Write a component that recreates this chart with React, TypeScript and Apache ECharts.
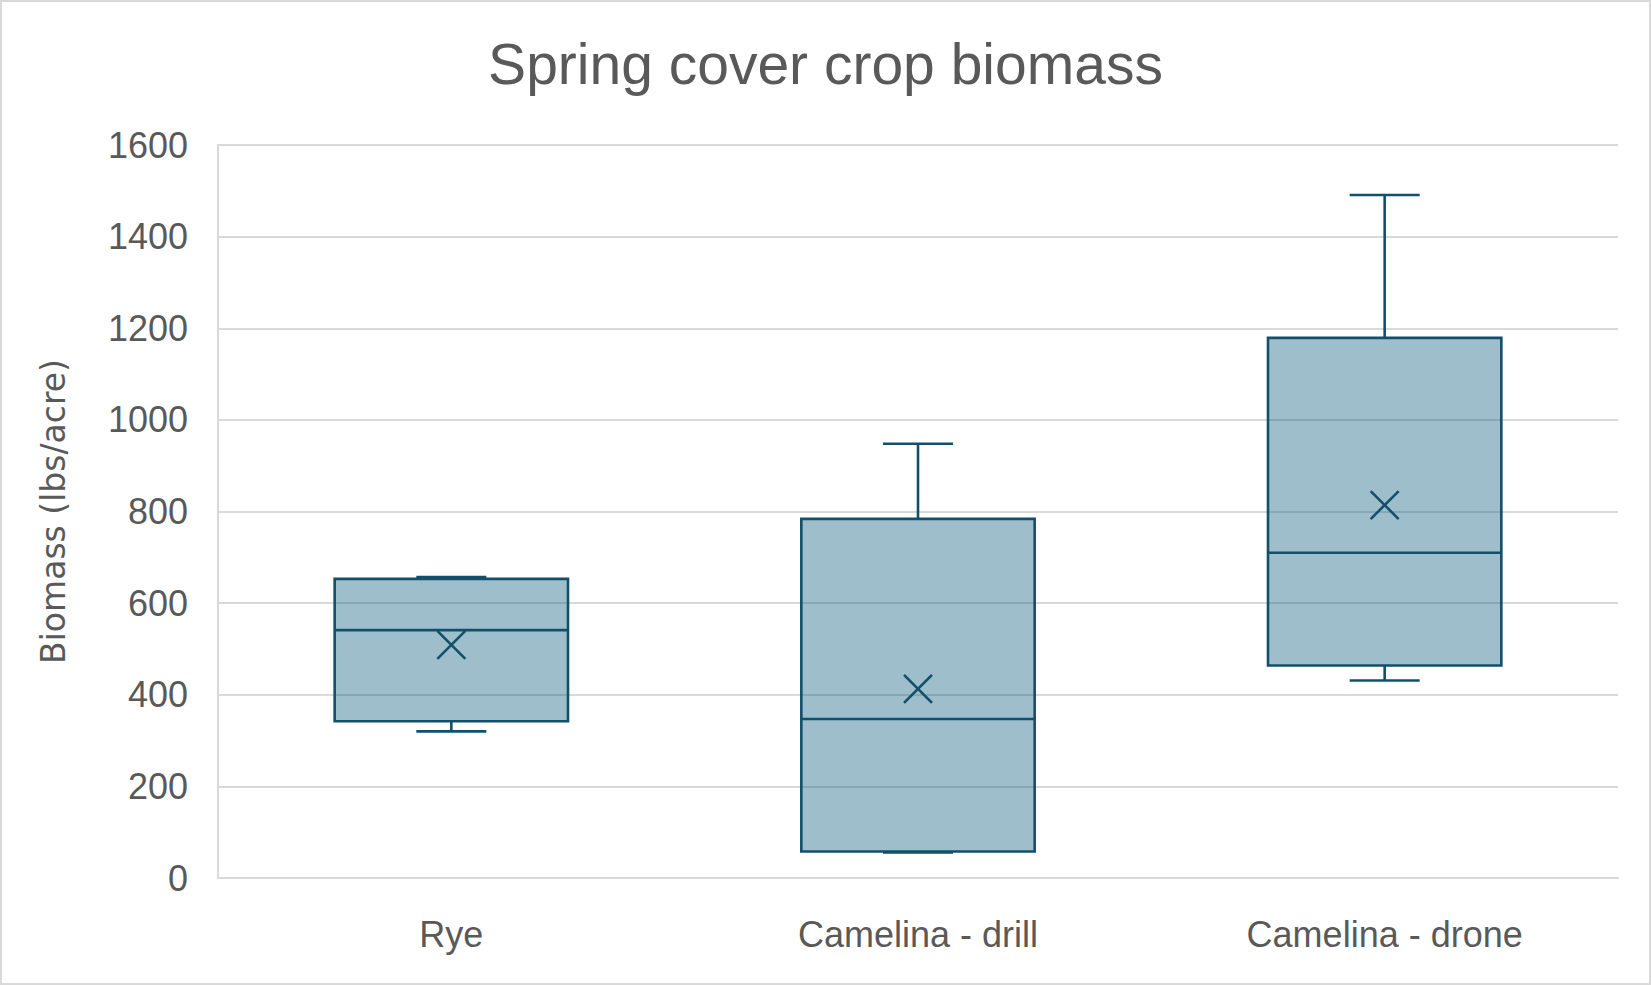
import React, { useEffect, useRef } from "react";
import * as echarts from "echarts";

const categories = ["Rye", "Camelina - drill", "Camelina - drone"];
const minVals = [320, 56, 431];
const q1Vals = [342, 58, 464];
const medianVals = [541, 347, 710];
const q3Vals = [653, 784, 1179];
const maxVals = [657, 948, 1491];
const meanVals = [509, 413, 814];
const yTicks = { min: 0, max: 1600, interval: 200 };

const TITLE = "Spring cover crop biomass";
const Y_NAME = "Biomass (lbs/acre)";

const STROKE = "#124F6A";
const FILL = "rgba(21,96,130,0.41)";
const GRID = "#D9D9D9";
const TEXT = "#595959";
const FONT = "'Liberation Sans', Arial, sans-serif";

export default function App() {
  const ref = useRef<HTMLDivElement>(null);

  useEffect(() => {
    document.body.style.margin = "0";
    if (!ref.current) return;
    const chart = echarts.init(ref.current, undefined, { renderer: "svg" });

    const data = categories.map((_, i) => [
      i,
      minVals[i],
      q1Vals[i],
      medianVals[i],
      q3Vals[i],
      maxVals[i],
      meanVals[i],
    ]);

    const renderItem = (params: any, api: any) => {
      const idx = api.value(0);
      const band = api.size([1, 0])[0];
      const boxW = band * 0.5;
      const capW = band * 0.15;
      const pMin = api.coord([idx, api.value(1)]);
      const pQ1 = api.coord([idx, api.value(2)]);
      const pMed = api.coord([idx, api.value(3)]);
      const pQ3 = api.coord([idx, api.value(4)]);
      const pMax = api.coord([idx, api.value(5)]);
      const pMean = api.coord([idx, api.value(6)]);
      const cx = pMed[0];
      const lineStyle = { stroke: STROKE, lineWidth: 2.6, fill: null };
      const xs = 14;
      return {
        type: "group",
        children: [
          {
            type: "line",
            shape: { x1: cx, y1: pMax[1], x2: cx, y2: pQ3[1] },
            style: lineStyle,
          },
          {
            type: "line",
            shape: { x1: cx - capW / 2, y1: pMax[1], x2: cx + capW / 2, y2: pMax[1] },
            style: lineStyle,
          },
          {
            type: "line",
            shape: { x1: cx, y1: pQ1[1], x2: cx, y2: pMin[1] },
            style: lineStyle,
          },
          {
            type: "line",
            shape: { x1: cx - capW / 2, y1: pMin[1], x2: cx + capW / 2, y2: pMin[1] },
            style: lineStyle,
          },
          {
            type: "rect",
            shape: { x: cx - boxW / 2, y: pQ3[1], width: boxW, height: pQ1[1] - pQ3[1] },
            style: { fill: FILL, stroke: STROKE, lineWidth: 2.6 },
          },
          {
            type: "line",
            shape: { x1: cx - boxW / 2, y1: pMed[1], x2: cx + boxW / 2, y2: pMed[1] },
            style: lineStyle,
          },
          {
            type: "line",
            shape: { x1: cx - xs, y1: pMean[1] - xs, x2: cx + xs, y2: pMean[1] + xs },
            style: lineStyle,
          },
          {
            type: "line",
            shape: { x1: cx - xs, y1: pMean[1] + xs, x2: cx + xs, y2: pMean[1] - xs },
            style: lineStyle,
          },
        ],
      };
    };

    chart.setOption({
      animation: false,
      backgroundColor: "#FFFFFF",
      title: {
        text: TITLE,
        left: "center",
        top: 30,
        textStyle: { fontFamily: FONT, fontSize: 57, fontWeight: "normal", color: TEXT },
      },
      grid: { left: 218, right: 33, top: 145, bottom: 107, containLabel: false },
      xAxis: {
        type: "category",
        data: categories,
        axisLine: { show: true, lineStyle: { color: GRID, width: 2 } },
        axisTick: { show: false },
        splitLine: { show: false },
        axisLabel: { fontFamily: FONT, fontSize: 36, color: TEXT, margin: 38 },
      },
      yAxis: {
        type: "value",
        min: yTicks.min,
        max: yTicks.max,
        interval: yTicks.interval,
        name: Y_NAME,
        nameLocation: "middle",
        nameGap: 148,
        nameTextStyle: { fontFamily: "'DejaVu Sans', sans-serif", fontSize: 33, color: TEXT },
        axisLine: { show: true, lineStyle: { color: GRID, width: 2 } },
        axisTick: { show: false },
        splitLine: { show: true, lineStyle: { color: GRID, width: 2 } },
        axisLabel: {
          fontFamily: FONT,
          fontSize: 36,
          color: TEXT,
          margin: 30,
          formatter: (v: number) => String(v),
        },
      },
      graphic: [
        {
          type: "rect",
          shape: { x: 1, y: 1, width: 1649, height: 983 },
          style: { fill: null, stroke: GRID, lineWidth: 2 },
          silent: true,
        },
      ],
      series: [
        {
          type: "custom",
          renderItem,
          data,
          encode: { x: 0, y: [1, 2, 3, 4, 5, 6] },
        },
      ],
    });

    return () => chart.dispose();
  }, []);

  return <div ref={ref} style={{ width: 1651, height: 985 }} />;
}
